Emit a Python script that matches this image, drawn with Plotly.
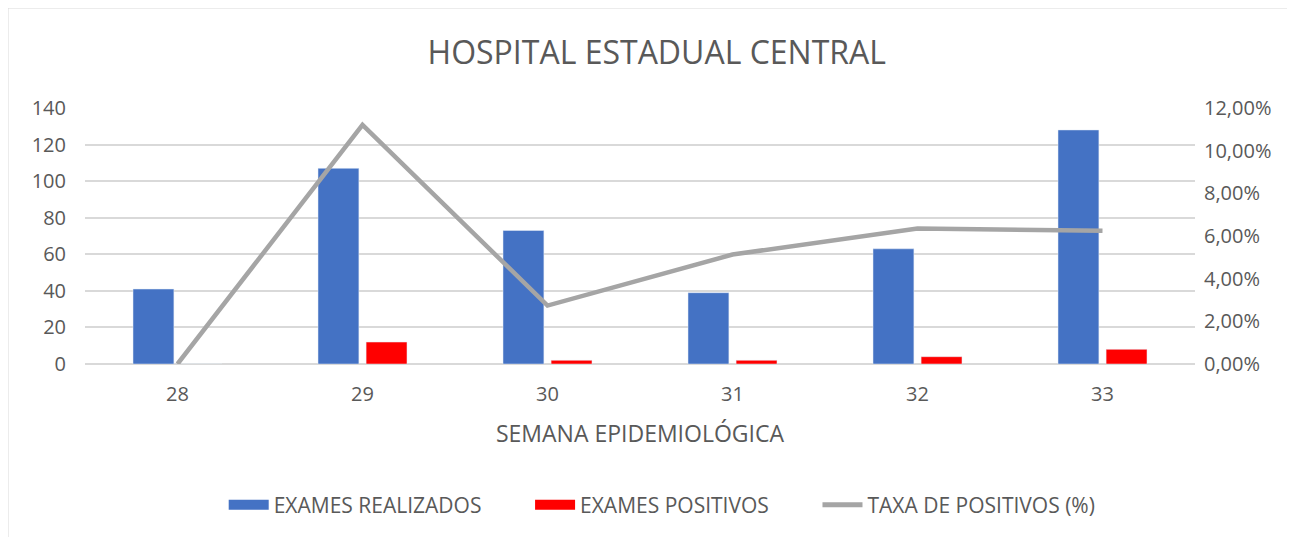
import plotly.graph_objects as go

# Dados
semanas = ["28", "29", "30", "31", "32", "33"]
exames_realizados = [41, 107, 73, 39, 63, 128]
exames_positivos = [0, 12, 2, 2, 4, 8]
taxa_positivos = [0.0, 0.1121, 0.0274, 0.0513, 0.0635, 0.0625]

FONT = "Open Sans, Noto Sans, sans-serif"
TXT = "#595959"
AZUL, VERMELHO, CINZA = "#4472C4", "#FF0000", "#A5A5A5"

fig = go.Figure()

fig.add_trace(go.Bar(
    x=semanas, y=exames_realizados, name="EXAMES REALIZADOS",
    marker=dict(color=AZUL), showlegend=False,
))
fig.add_trace(go.Bar(
    x=semanas, y=exames_positivos, name="EXAMES POSITIVOS",
    marker=dict(color=VERMELHO), showlegend=False,
))
fig.add_trace(go.Scatter(
    x=semanas, y=taxa_positivos, name="TAXA DE POSITIVOS (%)",
    mode="lines", yaxis="y2",
    line=dict(color=CINZA, width=4.5), showlegend=False,
))

# entradas de legenda com amostras largas (estilo Excel)
for nome, cor, larg in [("EXAMES REALIZADOS" + "\u00a0" * 8, AZUL, 14),
                        ("EXAMES POSITIVOS" + "\u00a0" * 8, VERMELHO, 14),
                        ("TAXA DE POSITIVOS (%)", CINZA, 5)]:
    fig.add_trace(go.Scatter(
        x=[None], y=[None], mode="lines", name=nome,
        line=dict(color=cor, width=larg),
    ))

fig.update_layout(
    width=1295,
    height=537,
    paper_bgcolor="white",
    plot_bgcolor="white",
    separators=",.",
    font=dict(family=FONT, color=TXT, size=20),
    barmode="group",
    bargap=0.48,
    bargroupgap=0.15,
    margin=dict(l=77, r=108, t=100, b=181),
    title=dict(text="HOSPITAL ESTADUAL CENTRAL", x=0.501, xanchor="center",
               y=0.916, yanchor="middle",
               font=dict(size=32, color=TXT, family=FONT)),
    xaxis=dict(
        title=dict(text="SEMANA EPIDEMIOLÓGICA", font=dict(size=23), standoff=19),
        showgrid=False, zeroline=False, showline=False,
        ticks="", tickfont=dict(size=20), ticklabelstandoff=16,
    ),
    yaxis=dict(
        range=[0, 140], dtick=20,
        gridcolor="#D9D9D9", gridwidth=1.5,
        zeroline=True, zerolinecolor="#D9D9D9", zerolinewidth=1.5,
        showline=False, ticks="", tickfont=dict(size=20),
        ticklabelstandoff=18,
    ),
    yaxis2=dict(
        range=[0, 0.12], dtick=0.02, tickformat=".2%",
        overlaying="y", side="right", showgrid=False, zeroline=False,
        showline=False, ticks="", tickfont=dict(size=20),
        ticklabelstandoff=8,
    ),
    legend=dict(
        orientation="h", x=0.52, xanchor="center", y=-0.551, yanchor="middle",
        font=dict(size=21), itemwidth=40, traceorder="normal",
    ),
    shapes=[dict(
        type="rect", xref="paper", yref="paper",
        x0=-77 / 1110, x1=(1282 - 77) / 1110,
        y0=-200 / 256, y1=1 + 100 / 256,
        line=dict(color="#D9D9D9", width=1), layer="below",
    )],
)

fig.write_html("out.html")
